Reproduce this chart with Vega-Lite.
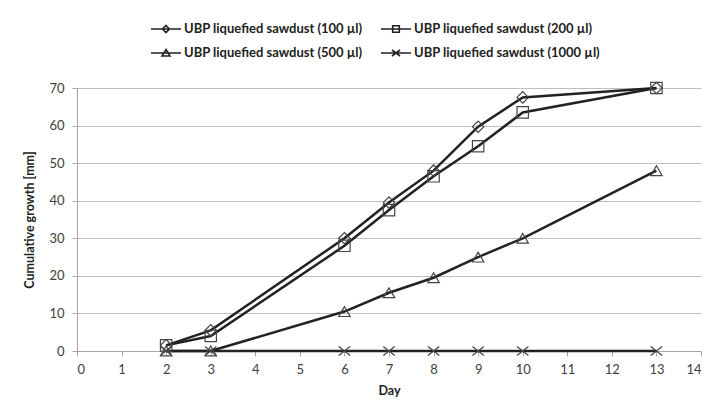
{
  "$schema": "https://vega.github.io/schema/vega-lite/v6.json",
  "width": 624,
  "height": 263,
  "autosize": {"type": "none"},
  "padding": {"left": 77, "top": 88, "right": 10, "bottom": 59},
  "background": "white",
  "config": {"view": {"stroke": null}, "font": "Lato"},
  "data": {"values": [
    {"day": 2, "growth": 1.5, "series": "UBP liquefied sawdust (100 µl)"},
    {"day": 3, "growth": 5.5, "series": "UBP liquefied sawdust (100 µl)"},
    {"day": 6, "growth": 30, "series": "UBP liquefied sawdust (100 µl)"},
    {"day": 7, "growth": 39.5, "series": "UBP liquefied sawdust (100 µl)"},
    {"day": 8, "growth": 48, "series": "UBP liquefied sawdust (100 µl)"},
    {"day": 9, "growth": 59.7, "series": "UBP liquefied sawdust (100 µl)"},
    {"day": 10, "growth": 67.5, "series": "UBP liquefied sawdust (100 µl)"},
    {"day": 13, "growth": 70, "series": "UBP liquefied sawdust (100 µl)"},
    {"day": 2, "growth": 1.5, "series": "UBP liquefied sawdust (200 µl)"},
    {"day": 3, "growth": 4, "series": "UBP liquefied sawdust (200 µl)"},
    {"day": 6, "growth": 28, "series": "UBP liquefied sawdust (200 µl)"},
    {"day": 7, "growth": 37.5, "series": "UBP liquefied sawdust (200 µl)"},
    {"day": 8, "growth": 46.5, "series": "UBP liquefied sawdust (200 µl)"},
    {"day": 9, "growth": 54.5, "series": "UBP liquefied sawdust (200 µl)"},
    {"day": 10, "growth": 63.5, "series": "UBP liquefied sawdust (200 µl)"},
    {"day": 13, "growth": 70, "series": "UBP liquefied sawdust (200 µl)"},
    {"day": 2, "growth": 0, "series": "UBP liquefied sawdust (500 µl)"},
    {"day": 3, "growth": 0, "series": "UBP liquefied sawdust (500 µl)"},
    {"day": 6, "growth": 10.5, "series": "UBP liquefied sawdust (500 µl)"},
    {"day": 7, "growth": 15.5, "series": "UBP liquefied sawdust (500 µl)"},
    {"day": 8, "growth": 19.5, "series": "UBP liquefied sawdust (500 µl)"},
    {"day": 9, "growth": 25, "series": "UBP liquefied sawdust (500 µl)"},
    {"day": 10, "growth": 30, "series": "UBP liquefied sawdust (500 µl)"},
    {"day": 13, "growth": 48, "series": "UBP liquefied sawdust (500 µl)"},
    {"day": 2, "growth": 0, "series": "UBP liquefied sawdust (1000 µl)"},
    {"day": 3, "growth": 0, "series": "UBP liquefied sawdust (1000 µl)"},
    {"day": 6, "growth": 0, "series": "UBP liquefied sawdust (1000 µl)"},
    {"day": 7, "growth": 0, "series": "UBP liquefied sawdust (1000 µl)"},
    {"day": 8, "growth": 0, "series": "UBP liquefied sawdust (1000 µl)"},
    {"day": 9, "growth": 0, "series": "UBP liquefied sawdust (1000 µl)"},
    {"day": 10, "growth": 0, "series": "UBP liquefied sawdust (1000 µl)"},
    {"day": 13, "growth": 0, "series": "UBP liquefied sawdust (1000 µl)"}
  ]},
  "encoding": {
    "x": {
      "field": "day", "type": "quantitative",
      "scale": {"domain": [0, 14], "nice": false},
      "axis": {
        "values": [0,1,2,3,4,5,6,7,8,9,10,11,12,13,14],
        "format": "d", "grid": false,
        "domainColor": "#a6a6a6", "tickColor": "#a6a6a6", "tickSize": 5,
        "labelColor": "#404040", "labelFontSize": 13, "labelPadding": 7,
        "title": "Day", "titleFontWeight": "bold", "titleFontSize": 12.5,
        "titleColor": "#222", "titlePadding": 8
      }
    },
    "y": {
      "field": "growth", "type": "quantitative",
      "scale": {"domain": [0, 70], "nice": false},
      "axis": {
        "values": [0,10,20,30,40,50,60,70],
        "grid": true, "gridColor": "#bfbfbf", "gridWidth": 1,
        "domainColor": "#a6a6a6", "tickColor": "#a6a6a6", "tickSize": 5,
        "labelColor": "#404040", "labelFontSize": 13, "labelPadding": 8,
        "title": "Cumulative growth [mm]", "titleFontWeight": "bold", "titleFontSize": 12.5,
        "titleColor": "#222", "titlePadding": 12
      }
    }
  },
  "layer": [
    {
      "mark": {"type": "line", "color": "#222", "strokeWidth": 2.5},
      "encoding": {"detail": {"field": "series", "type": "nominal"}}
    },
    {
      "mark": {"type": "point", "filled": false, "size": 130, "strokeWidth": 1.2, "color": "#444", "opacity": 1},
      "encoding": {
        "shape": {
          "field": "series", "type": "nominal",
          "scale": {
            "domain": ["UBP liquefied sawdust (100 µl)", "UBP liquefied sawdust (200 µl)", "UBP liquefied sawdust (500 µl)", "UBP liquefied sawdust (1000 µl)"],
            "range": ["diamond", "square", "triangle-up", "M-1,-0.8L1,0.8M-1,0.8L1,-0.8"]
          },
          "legend": null
        }
      }
    },
    {
      "mark": {"type": "point", "filled": false, "size": 400, "strokeWidth": 1.6, "color": "#222", "opacity": 0},
      "encoding": {
        "shape": {
          "field": "series", "type": "nominal",
          "scale": {
            "domain": ["UBP liquefied sawdust (100 µl)", "UBP liquefied sawdust (200 µl)", "UBP liquefied sawdust (500 µl)", "UBP liquefied sawdust (1000 µl)"],
            "range": [
              "M-1.5,0H1.5M0,-0.35L0.35,0L0,0.35L-0.35,0Z",
              "M-1.5,0H1.5M-0.33,-0.33H0.33V0.33H-0.33Z",
              "M-1.5,0H1.5M0,-0.35L0.4,0.3H-0.4Z",
              "M-1.5,0H1.5M-0.4,-0.3L0.4,0.3M-0.4,0.3L0.4,-0.3"
            ]
          },
          "legend": {
            "orient": "none", "legendX": 78, "legendY": -70,
            "columns": 2, "direction": "horizontal", "title": null, "padding": 0,
            "symbolSize": 400, "symbolOpacity": 1, "symbolStrokeWidth": 1.6,
            "symbolStrokeColor": "#222", "symbolFillColor": "transparent",
            "labelFont": "Lato", "labelFontSize": 13, "labelFontWeight": "bold",
            "labelColor": "#222", "labelOffset": 7, "labelLimit": 400,
            "rowPadding": 6, "columnPadding": 14
          }
        }
      }
    }
  ],
  "resolve": {"scale": {"shape": "independent"}, "legend": {"shape": "independent"}}
}
